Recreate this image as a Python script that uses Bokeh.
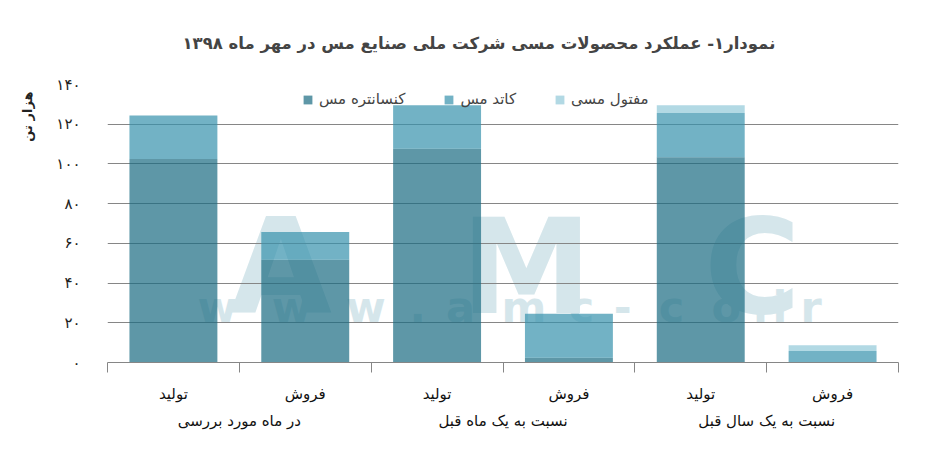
import numpy as np
from bokeh.plotting import figure
from bokeh.models import ColumnDataSource, Range1d, LinearAxis, FixedTicker, Legend, Title
from bokeh.core.properties import value
from bokeh.embed import file_html
from bokeh.resources import INLINE

# data (thousand tonnes)
categories = ["تولید", "فروش", "تولید", "فروش", "تولید", "فروش"]
groups = ["در ماه مورد بررسی", "نسبت به یک ماه قبل", "نسبت به یک سال قبل"]
series = ["کنسانتره مس", "کاتد مس", "مفتول مسی"]
concentrate = [102.5, 51.8, 107.7, 2.4, 103.4, 0.0]
cathode = [21.9, 13.9, 21.9, 22.1, 22.2, 5.8]
wire = [0.0, 0.0, 0.0, 0.0, 4.0, 2.9]
y_ticks = [0, 20, 40, 60, 80, 100, 120, 140]

title = "نمودار۱- عملکرد محصولات مسی شرکت ملی صنایع مس در مهر ماه ۱۳۹۸"
y_title = "هزار تن"
colors = ["#196b81", "#3692ac", "#92c9d8"]

# background watermark (decoration only)
wm_big = ["A", "M", "C"]
wm_big_x = [1.315, 3.178, 4.893]
wm_small = list("www.amc-co.ir")
wm_small_x = [0.833, 1.396, 1.959, 2.352, 2.678, 3.159, 3.596, 3.907, 4.278, 4.693, 4.952, 5.10, 5.337]

FONT = "DejaVu Sans"
GRID = "#868686"
fa = str.maketrans("0123456789", "۰۱۲۳۴۵۶۷۸۹")

x = np.arange(len(categories)) + 0.5
src = ColumnDataSource(dict(x=x, conc=concentrate, cath=cathode, wire=wire))

p = figure(width=931, height=456, x_range=Range1d(0, 6), y_range=Range1d(0, 140),
           x_axis_type=None, output_backend="svg", toolbar_location=None,
           min_border_left=102, min_border_right=33, min_border_top=82, min_border_bottom=94)
p.outline_line_color = None

# watermark under everything
p.text(x=wm_big_x, y=[48.3] * 3, text=wm_big, text_font=value(FONT), text_font_style="bold",
       text_font_size="132px", text_color="#d5e6eb", text_align="center",
       text_baseline="alphabetic", level="image")
p.text(x=wm_small_x, y=[28.0] * len(wm_small), text=wm_small, text_font=value(FONT),
       text_font_style="bold", text_font_size="43px", text_color="#d5e6eb",
       text_align="center", text_baseline="alphabetic", level="image")

bars = p.vbar_stack(["conc", "cath", "wire"], x="x", width=0.667, color=colors,
                    fill_alpha=0.7, line_color=None, source=src)

# y axis + grid
p.ygrid.ticker = FixedTicker(ticks=y_ticks)
p.ygrid.grid_line_color = GRID
p.yaxis.ticker = FixedTicker(ticks=y_ticks)
p.yaxis.major_label_overrides = {t: str(t).translate(fa) for t in y_ticks}
p.yaxis.axis_line_color = None
p.yaxis.major_tick_line_color = None
p.yaxis.minor_tick_line_color = None
p.yaxis.major_label_standoff = 21
p.yaxis.major_label_text_font = FONT
p.yaxis.major_label_text_font_size = "15px"
p.yaxis.major_label_text_color = "#222222"

# category axis: labels at bar centres, tick marks between bars
ax = LinearAxis(ticker=FixedTicker(ticks=list(x), minor_ticks=list(range(len(categories) + 1))),
                major_label_overrides={float(v): c for v, c in zip(x, categories)})
ax.axis_line_color = GRID
ax.major_tick_line_color = None
ax.major_tick_out = 0
ax.minor_tick_line_color = GRID
ax.minor_tick_out = 10
ax.minor_tick_in = 0
ax.major_label_standoff = 12
ax.major_label_text_font = FONT
ax.major_label_text_font_size = "15px"
ax.major_label_text_color = "#111111"
p.add_layout(ax, "below")

# group axis
gx = [1.0, 3.0, 5.0]
gax = LinearAxis(ticker=FixedTicker(ticks=gx, minor_ticks=[]),
                 major_label_overrides={v: g for v, g in zip(gx, groups)})
gax.axis_line_color = None
gax.major_tick_line_color = None
gax.major_tick_out = 0
gax.minor_tick_line_color = None
gax.major_label_standoff = 6
gax.major_label_text_font = FONT
gax.major_label_text_font_size = "15px"
gax.major_label_text_color = "#111111"
p.add_layout(gax, "below")

# legend inside the top of the plot
legend = Legend(items=[(s, [r]) for s, r in zip(series, bars)], orientation="horizontal",
                location=(195, 254))
legend.padding = 0
legend.margin = 0
legend.spacing = 38
legend.label_standoff = 6
legend.glyph_width = 11
legend.glyph_height = 11
legend.border_line_color = None
legend.background_fill_alpha = 0
legend.label_text_font = FONT
legend.label_text_font_size = "15px"
p.add_layout(legend)

# rotated unit label near the top of the y axis
p.add_layout(Title(text=y_title, align="right", offset=7, standoff=36,
                   vertical_align="middle",
                   text_font=FONT, text_font_size="13px", text_font_style="bold",
                   text_color="#222222"), "left")

p.title.text = title
p.title.align = "left"
p.title.offset = 75
p.title.standoff = 63
p.title.text_font = FONT
p.title.text_font_size = "16.5px"
p.title.text_font_style = "bold"

open("out.html", "w").write(file_html(p, INLINE))
